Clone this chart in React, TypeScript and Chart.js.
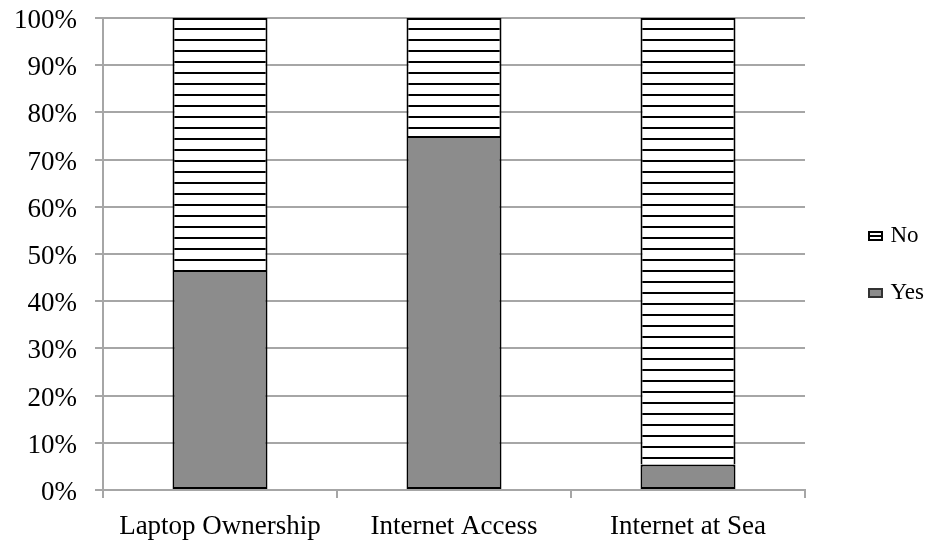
import React, { useEffect, useRef } from 'react';
import { Chart, registerables } from 'chart.js';

Chart.register(...registerables);

const categories = ['Laptop Ownership', 'Internet Access', 'Internet at Sea'];
const yesValues = [46.6, 75, 5.4];
const noValues = [53.4, 25, 94.6];
const seriesNames = ['Yes', 'No'];
const yMin = 0;
const yMax = 100;
const yStep = 10;

const FONT = "'Liberation Serif', 'Times New Roman', serif";
const GRID = '#a6a6a6';
const GRAY = '#8c8c8c';

function makeStripePattern(ctx: CanvasRenderingContext2D) {
  const c = document.createElement('canvas');
  c.width = 8;
  c.height = 11;
  const g = c.getContext('2d')!;
  g.fillStyle = '#ffffff';
  g.fillRect(0, 0, 8, 11);
  g.fillStyle = '#000000';
  g.fillRect(0, 6, 8, 2);
  return ctx.createPattern(c, 'repeat')!;
}

function makeLegendIcon(kind: 'yes' | 'no') {
  const c = document.createElement('canvas');
  c.width = 48;
  c.height = 12;
  const g = c.getContext('2d')!;
  if (kind === 'no') {
    g.fillStyle = '#ffffff';
    g.fillRect(34, 2, 13, 8);
    g.fillStyle = '#000000';
    g.fillRect(34, 5, 13, 2);
    g.strokeStyle = '#000000';
    g.lineWidth = 2;
    g.strokeRect(34, 2, 13, 8);
  } else {
    g.fillStyle = GRAY;
    g.fillRect(34, 2, 13, 8);
    g.strokeStyle = '#333333';
    g.lineWidth = 2;
    g.strokeRect(34, 2, 13, 8);
  }
  return c;
}

export default function App() {
  const canvasRef = useRef<HTMLCanvasElement | null>(null);

  useEffect(() => {
    const canvas = canvasRef.current!;
    const ctx = canvas.getContext('2d')!;
    const stripes = makeStripePattern(ctx);
    const icons = [makeLegendIcon('yes'), makeLegendIcon('no')];

    const chart = new Chart(canvas, {
      type: 'bar',
      data: {
        labels: categories,
        datasets: [
          {
            label: seriesNames[0],
            data: yesValues,
            backgroundColor: GRAY,
            borderColor: '#000000',
            borderWidth: 2,
            borderSkipped: false,
          },
          {
            label: seriesNames[1],
            data: noValues,
            backgroundColor: stripes,
            borderColor: '#000000',
            borderWidth: 2,
            borderSkipped: 'bottom',
          },
        ],
      },
      options: {
        animation: false,
        responsive: true,
        maintainAspectRatio: false,
        datasets: { bar: { barPercentage: 0.406, categoryPercentage: 1 } },
        layout: { padding: { top: 18, left: 0, right: 0, bottom: 0 } },
        plugins: {
          tooltip: { enabled: false },
          legend: {
            position: 'right',
            fullSize: false,
            reverse: true,
            maxWidth: 127,
            title: { display: true, text: '', padding: 0, font: { size: 21, lineHeight: 1 } },
            labels: {
              usePointStyle: true,
              pointStyleWidth: 40,
              padding: 34,
              color: '#000000',
              font: { family: FONT, size: 23 },
              generateLabels: (ch: any) => {
                const items = (Chart.defaults as any).plugins.legend.labels.generateLabels(ch);
                items.forEach((it: any) => {
                  it.pointStyle = icons[it.datasetIndex];
                });
                return items;
              },
            },
          },
        },
        scales: {
          x: {
            stacked: true,
            grid: {
              display: true,
              drawOnChartArea: false,
              drawTicks: true,
              tickLength: 8,
              color: GRID,
              lineWidth: 2,
              offset: true,
            },
            border: { color: GRID, width: 2 },
            ticks: {
              color: '#000000',
              font: { family: FONT, size: 27 },
              padding: 13,
              maxRotation: 0,
              autoSkip: false,
            },
            afterFit: (s: any) => {
              s.height = 53;
            },
          },
          y: {
            stacked: true,
            min: yMin,
            max: yMax,
            ticks: {
              stepSize: yStep,
              callback: (v: any) => v + '%',
              color: '#000000',
              font: { family: FONT, size: 27 },
              padding: 18,
              labelOffset: 3,
            },
            grid: { color: GRID, lineWidth: 2, tickLength: 8 },
            border: { color: GRID, width: 2 },
            afterFit: (s: any) => {
              s.width = 103;
              s.paddingTop = 0;
              s.paddingBottom = 0;
            },
          },
        },
      },
    } as any);

    return () => chart.destroy();
  }, []);

  return (
    <div style={{ position: 'fixed', left: 0, top: 0, width: 932, height: 543, background: '#ffffff' }}>
      <canvas ref={canvasRef} />
    </div>
  );
}
